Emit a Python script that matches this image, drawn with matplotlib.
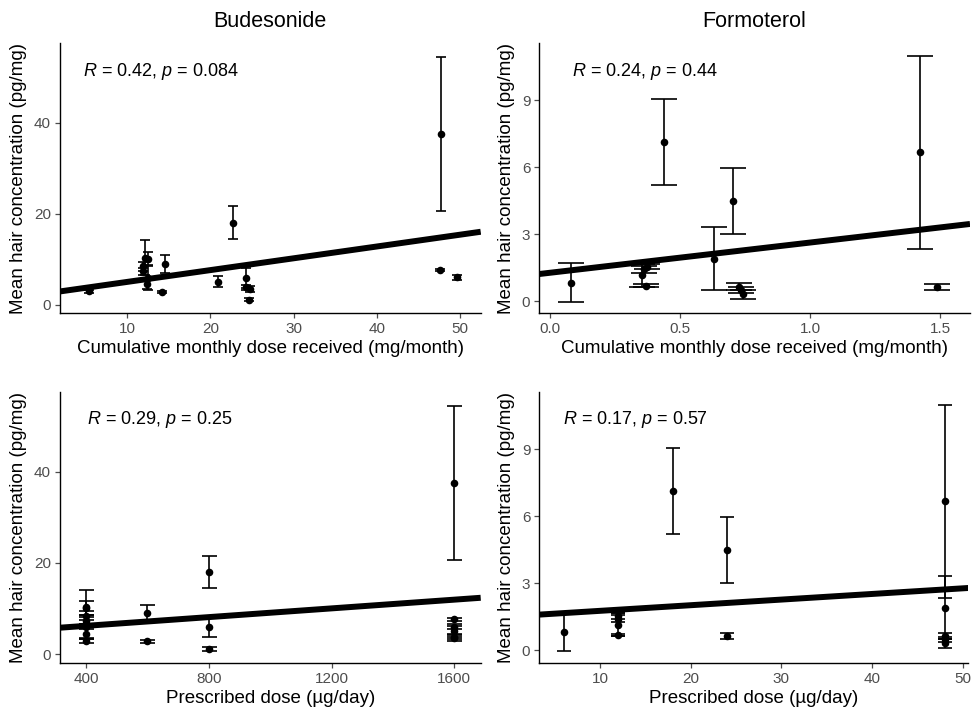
import numpy as np
import matplotlib
matplotlib.use("Agg")
import matplotlib.pyplot as plt

plt.rcParams['font.family'] = ['Liberation Sans', 'DejaVu Sans']
plt.rcParams['mathtext.fontset'] = 'custom'
plt.rcParams['mathtext.rm'] = 'Liberation Sans'
plt.rcParams['mathtext.it'] = 'Liberation Sans:italic'

# ---- Budesonide data (18 patients) ----
bud_cum = [5.4, 12.1, 12.5, 11.9, 11.9, 12.5, 12.4, 14.2, 14.5, 20.9, 22.7, 24.3, 24.3, 24.8, 24.6, 47.7, 47.6, 49.7]
bud_presc = [400, 400, 400, 400, 400, 400, 400, 600, 600, 1600, 800, 800, 1600, 1600, 800, 1600, 1600, 1600]
bud_mean = [2.9, 10.3, 10.1, 8.4, 7.3, 5.9, 4.5, 2.8, 8.9, 5.0, 18.0, 5.9, 3.8, 3.5, 1.1, 37.5, 7.6, 6.0]
bud_sd = [0.4, 3.8, 1.5, 1.0, 0.8, 2.6, 1.0, 0.3, 1.9, 1.2, 3.6, 2.2, 0.5, 0.7, 0.4, 16.9, 0.3, 0.5]

# ---- Formoterol data (13 patients) ----
for_cum = [0.081, 0.353, 0.360, 0.372, 0.370, 0.438, 0.629, 0.703, 0.725, 0.735, 0.744, 1.423, 1.487]
for_presc = [6, 12, 12, 12, 12, 18, 48, 24, 48, 48, 48, 48, 24]
for_mean = [0.82, 1.15, 1.42, 1.54, 0.69, 7.13, 1.90, 4.48, 0.64, 0.49, 0.31, 6.66, 0.64]
for_sd = [0.86, 0.50, 0.15, 0.12, 0.05, 1.93, 1.41, 1.47, 0.15, 0.12, 0.20, 4.32, 0.14]

# ---- linear fit lines (intercept, slope) ----
fit_bud_cum = [2.41, 0.259]
fit_for_cum = [1.265, 1.353]
fit_bud_presc = [4.27, 0.004785]
fit_for_presc = [1.517, 0.02517]

titles = ["Budesonide", "Formoterol"]
stat_labels = [r"$\mathit{R}$ = 0.42, $\mathit{p}$ = 0.084",
               r"$\mathit{R}$ = 0.24, $\mathit{p}$ = 0.44",
               r"$\mathit{R}$ = 0.29, $\mathit{p}$ = 0.25",
               r"$\mathit{R}$ = 0.17, $\mathit{p}$ = 0.57"]
xlabel_cum = "Cumulative monthly dose received (mg/month)"
xlabel_presc = "Prescribed dose (\u00b5g/day)"
ylabel = "Mean hair concentration (pg/mg)"

bud_cum_ticks = [10, 20, 30, 40, 50]
bud_presc_ticks = [400, 800, 1200, 1600]
for_cum_ticks = [0.0, 0.5, 1.0, 1.5]
for_cum_ticklabels = ["0.0", "0.5", "1.0", "1.5"]
for_presc_ticks = [10, 20, 30, 40, 50]
bud_yticks = [0, 20, 40]
for_yticks = [0, 3, 6, 9]

W, H = 973, 711
fig = plt.figure(figsize=(W / 100, H / 100), dpi=100)

def px_axes(x0, y0, x1, y1):
    return fig.add_axes([x0 / W, 1 - y1 / H, (x1 - x0) / W, (y1 - y0) / H])

ax_tl = px_axes(60, 43.3, 480.7, 313.3)
ax_tr = px_axes(539.3, 43.3, 970, 313.3)
ax_bl = px_axes(60, 392.3, 480.7, 662.7)
ax_br = px_axes(539.3, 392.3, 968.3, 662.7)

panels = [
    (ax_tl, bud_cum, bud_mean, bud_sd, fit_bud_cum, (1.9, 52.5), (-1.9, 57.4), bud_cum_ticks, None, bud_yticks, 3.6, xlabel_cum, stat_labels[0], (0.055, 0.895)),
    (ax_tr, for_cum, for_mean, for_sd, fit_for_cum, (-0.041, 1.615), (-0.55, 11.54), for_cum_ticks, for_cum_ticklabels, for_yticks, 9.2, xlabel_cum, stat_labels[1], (0.075, 0.895)),
    (ax_bl, bud_presc, bud_mean, bud_sd, fit_bud_presc, (315, 1686), (-1.9, 57.4), bud_presc_ticks, None, bud_yticks, 5.4, xlabel_presc, stat_labels[2], (0.063, 0.898)),
    (ax_br, for_presc, for_mean, for_sd, fit_for_presc, (3.31, 50.6), (-0.55, 11.54), for_presc_ticks, None, for_yticks, 4.8, xlabel_presc, stat_labels[3], (0.056, 0.898)),
]

grey = "#4D4D4D"
for ax, x, y, sd, fit, xl, yl, xt, xtl, yt, cap, xlab, slab, spos in panels:
    x = np.asarray(x, float)
    y = np.asarray(y, float)
    ax.errorbar(x, y, yerr=sd, fmt='none', ecolor='black', elinewidth=1.2,
                capsize=cap, capthick=1.2, zorder=2)
    ax.scatter(x, y, s=30, color='black', zorder=3, linewidths=0)
    xx = np.array(xl)
    ax.plot(xx, fit[0] + fit[1] * xx, color='black', lw=4.3, solid_capstyle='butt', zorder=4)
    ax.set_xlim(xl)
    ax.set_ylim(yl)
    ax.set_xticks(xt)
    if xtl is not None:
        ax.set_xticklabels(xtl)
    ax.set_yticks(yt)
    for s in ['top', 'right']:
        ax.spines[s].set_visible(False)
    for s in ['left', 'bottom']:
        ax.spines[s].set_color('black')
        ax.spines[s].set_linewidth(1.0)
    ax.tick_params(axis='both', colors=grey, labelcolor=grey, labelsize=11,
                   length=3.5, width=0.9, pad=3)
    ax.set_xlabel(xlab, fontsize=13.5, color='black', labelpad=3)
    ax.set_ylabel(ylabel, fontsize=13.5, color='black', labelpad=5)
    ax.text(spos[0], spos[1], slab, transform=ax.transAxes, fontsize=13,
            ha='left', va='center', color='black')

ax_tl.set_title(titles[0], fontsize=15.5, pad=12)
ax_tr.set_title(titles[1], fontsize=15.5, pad=12)

fig.savefig("out.png", dpi=100, facecolor='white')
